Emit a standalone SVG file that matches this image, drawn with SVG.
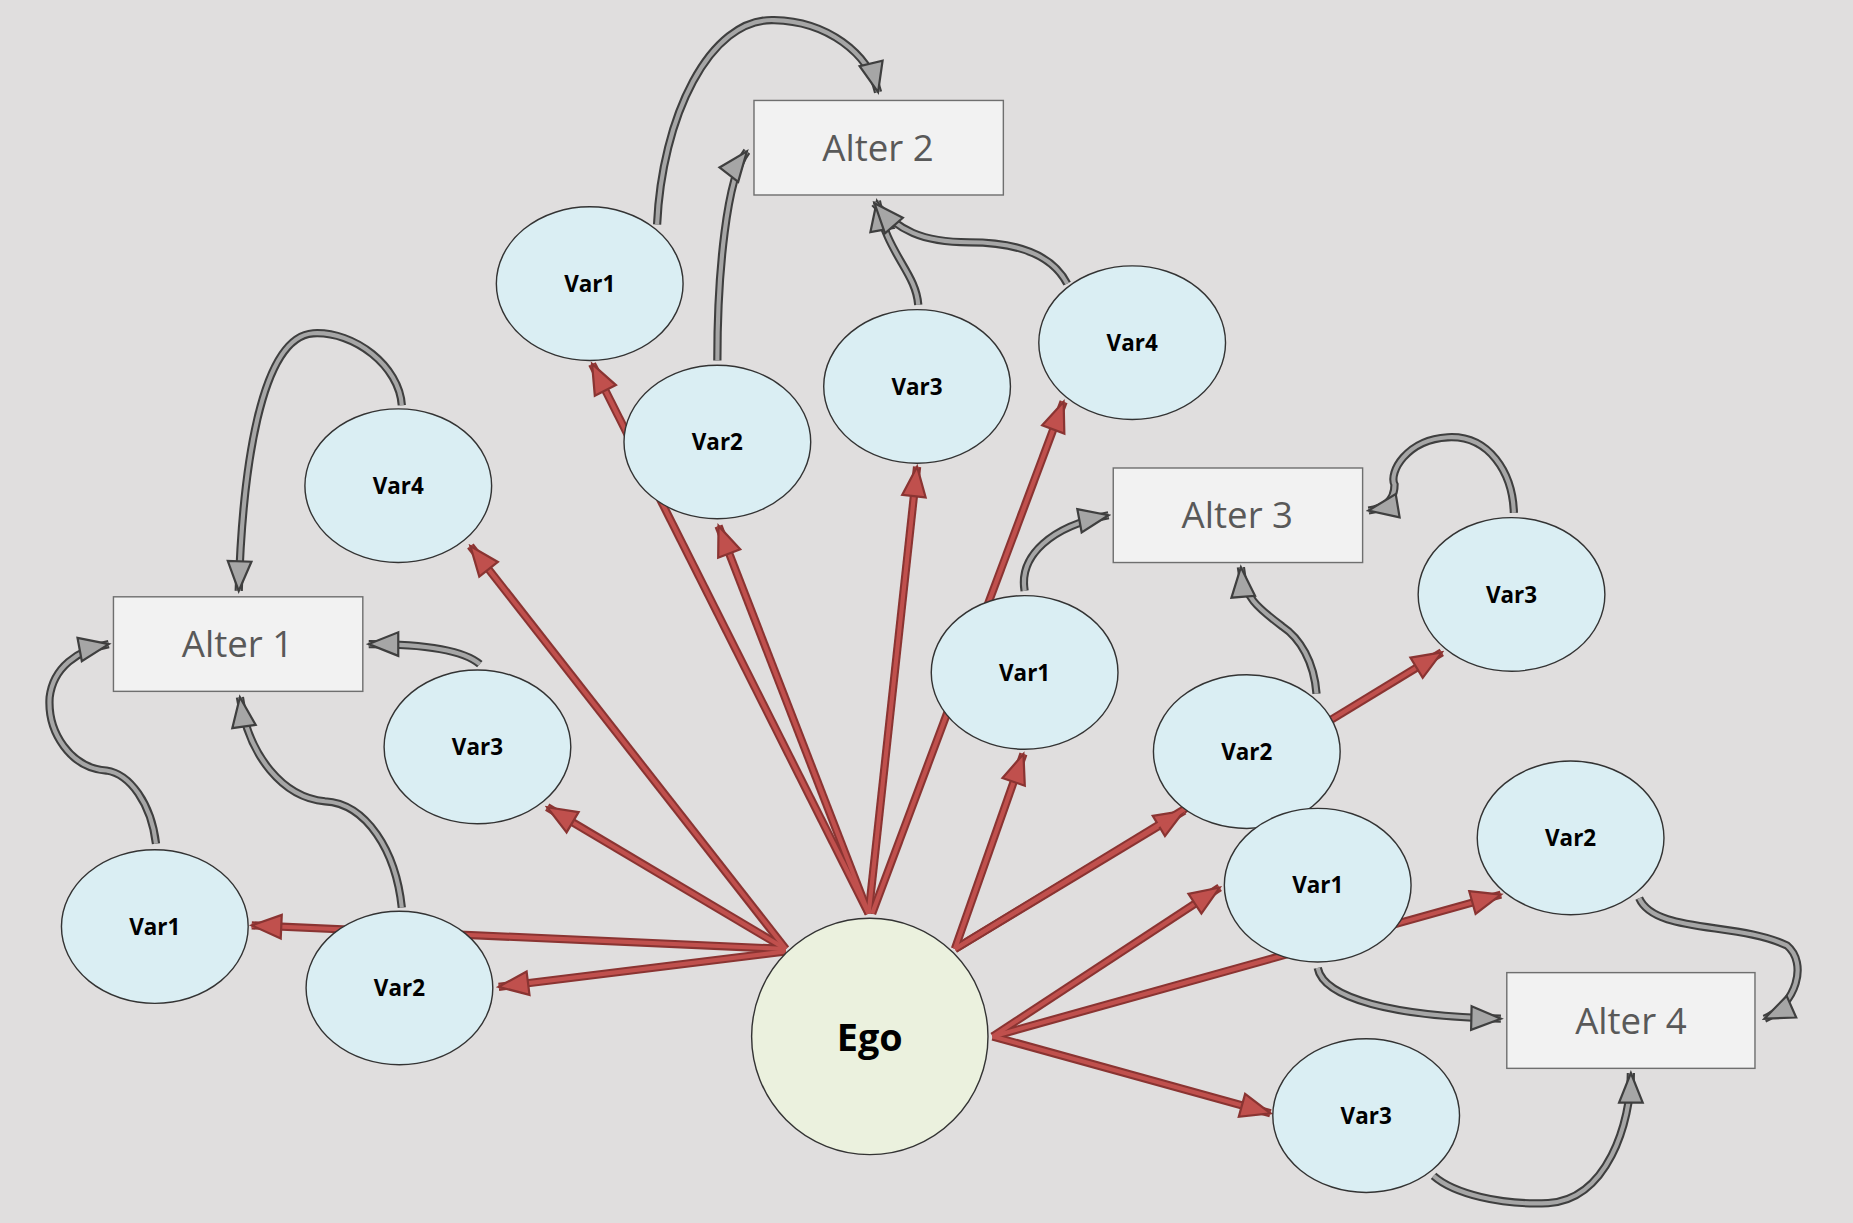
<svg xmlns="http://www.w3.org/2000/svg" xmlns:xlink="http://www.w3.org/1999/xlink" width="1853" height="1223" viewBox="0 0 1853 1223">
<style>
.o{fill:none;stroke-width:7;stroke-linecap:butt}
.i{fill:none;stroke-width:3.5}
.ro{stroke:#8a3432}.ri{stroke:#c0504d;marker-end:url(#mr)}
.go{stroke:#3f3f3f}.gi{stroke:#a6a6a6;marker-end:url(#mg)}
.v{fill:#daeef3;stroke:#333;stroke-width:1.2}
.r{fill:#f2f2f2;stroke:#6f6f6f;stroke-width:1.2}
.vt{font-family:"Open Sans","DejaVu Sans",sans-serif;font-weight:bold;font-size:19px;fill:#000;text-anchor:middle}
.at{font-family:"Open Sans","DejaVu Sans",sans-serif;font-size:31px;fill:#595959;text-anchor:middle}
</style>
<defs>
<marker id="mr" markerUnits="userSpaceOnUse" markerWidth="30" markerHeight="30" viewBox="0 0 24 20" refX="22" refY="10" orient="auto"><path d="M2,2 L22,10 L2,18 Z" fill="#c0504d" stroke="#8a3432" stroke-width="1.5"/></marker>
<marker id="mg" markerUnits="userSpaceOnUse" markerWidth="30" markerHeight="30" viewBox="0 0 24 20" refX="22" refY="10" orient="auto"><path d="M2,2 L22,10 L2,18 Z" fill="#a6a6a6" stroke="#3f3f3f" stroke-width="1.5"/></marker>
</defs>
<rect width="1853" height="1223" fill="#e0dede"/>
<g transform="scale(1.1818)">
<g id="connectors">
<defs>
<path id="r1" d="M665,803 L213,783"/>
<path id="r2" d="M665,805 L422,835"/>
<path id="r3" d="M665,803 L463,683"/>
<path id="r4" d="M665,803 L398,462"/>
<path id="r5" d="M735,773 L501,308"/>
<path id="r6" d="M735,773 L608,445"/>
<path id="r7" d="M735,773 L776,395"/>
<path id="r8" d="M738,773 L900,340"/>
<path id="r9" d="M808,803 L866,638"/>
<path id="r10" d="M808,803 L1002,686"/>
<path id="r11" d="M808,803 L1220,552"/>
<path id="r12" d="M840,877 L1032,751"/>
<path id="r13" d="M840,877 L1075,942"/>
<path id="r14" d="M840,877 L1270,757"/>
<path id="g1" d="M556,190 C560,100 600,15 655,17 C700,18 735,45 743,78"/>
<path id="g2" d="M607,305 C607,230 615,150 632,128"/>
<path id="g3" d="M777,258 C775,230 750,215 742,170"/>
<path id="g4" d="M903,240 C890,215 860,205 820,205 C780,205 760,195 740,172"/>
<path id="g5" d="M340,343 C338,310 300,280 265,282 C220,285 205,400 202,500"/>
<path id="g6" d="M406,562 C390,548 350,545 312,545"/>
<path id="g7" d="M132,714 C128,680 110,655 90,652 C60,650 40,620 42,590 C45,565 65,550 92,545"/>
<path id="g8" d="M340,768 C335,720 310,680 275,678 C240,675 210,640 203,590"/>
<path id="g9" d="M867,500 C862,470 890,445 938,436"/>
<path id="g10" d="M1114,587 C1112,560 1100,540 1085,530 C1065,515 1052,505 1050,480"/>
<path id="g11" d="M1281,434 C1280,400 1260,368 1225,370 C1190,372 1175,400 1180,410 C1180,425 1170,430 1158,432"/>
<path id="g12" d="M1115,819 C1120,845 1180,860 1270,862"/>
<path id="g13" d="M1387,760 C1400,790 1470,780 1512,800 C1530,815 1520,850 1493,862"/>
<path id="g14" d="M1213,995 C1230,1010 1270,1020 1310,1018 C1360,1015 1380,950 1380,908"/>
</defs>
<g class="o ro"><use href="#r1"/><use href="#r2"/><use href="#r3"/><use href="#r4"/><use href="#r5"/><use href="#r6"/><use href="#r7"/><use href="#r8"/><use href="#r9"/><use href="#r10"/><use href="#r11"/><use href="#r12"/><use href="#r13"/><use href="#r14"/></g>
<g class="i ri"><use href="#r1"/><use href="#r2"/><use href="#r3"/><use href="#r4"/><use href="#r5"/><use href="#r6"/><use href="#r7"/><use href="#r8"/><use href="#r9"/><use href="#r10"/><use href="#r11"/><use href="#r12"/><use href="#r13"/><use href="#r14"/></g>
<g class="o go"><use href="#g1"/><use href="#g2"/><use href="#g3"/><use href="#g4"/><use href="#g5"/><use href="#g6"/><use href="#g7"/><use href="#g8"/><use href="#g9"/><use href="#g10"/><use href="#g11"/><use href="#g12"/><use href="#g13"/><use href="#g14"/></g>
<g class="i gi"><use href="#g1"/><use href="#g2"/><use href="#g3"/><use href="#g4"/><use href="#g5"/><use href="#g6"/><use href="#g7"/><use href="#g8"/><use href="#g9"/><use href="#g10"/><use href="#g11"/><use href="#g12"/><use href="#g13"/><use href="#g14"/></g>
</g>
<g id="ego"><circle cx="736" cy="877" r="100" fill="#ebf1de" stroke="#333" stroke-width="1.2"/><text x="736" y="889" class="vt" style="font-size:32px">Ego</text></g>
<g id="alter2"><rect x="638" y="85" width="211" height="80" class="r"/><text x="743" y="136" class="at">Alter 2</text></g>
<g id="alter1"><rect x="96" y="505" width="211" height="80" class="r"/><text x="201" y="556" class="at">Alter 1</text></g>
<g id="alter3"><rect x="942" y="396" width="211" height="80" class="r"/><text x="1047" y="447" class="at">Alter 3</text></g>
<g id="alter4"><rect x="1275" y="823" width="210" height="81" class="r"/><text x="1380" y="875" class="at">Alter 4</text></g>
<g id="a2v1"><ellipse cx="499" cy="240" rx="79" ry="65" class="v"/><text x="499" y="247" class="vt">Var1</text></g>
<g id="a2v2"><ellipse cx="607" cy="374" rx="79" ry="65" class="v"/><text x="607" y="381" class="vt">Var2</text></g>
<g id="a2v3"><ellipse cx="776" cy="327" rx="79" ry="65" class="v"/><text x="776" y="334" class="vt">Var3</text></g>
<g id="a2v4"><ellipse cx="958" cy="290" rx="79" ry="65" class="v"/><text x="958" y="297" class="vt">Var4</text></g>
<g id="a1v4"><ellipse cx="337" cy="411" rx="79" ry="65" class="v"/><text x="337" y="418" class="vt">Var4</text></g>
<g id="a1v3"><ellipse cx="404" cy="632" rx="79" ry="65" class="v"/><text x="404" y="639" class="vt">Var3</text></g>
<g id="a1v1"><ellipse cx="131" cy="784" rx="79" ry="65" class="v"/><text x="131" y="791" class="vt">Var1</text></g>
<g id="a1v2"><ellipse cx="338" cy="836" rx="79" ry="65" class="v"/><text x="338" y="843" class="vt">Var2</text></g>
<g id="a3v1"><ellipse cx="867" cy="569" rx="79" ry="65" class="v"/><text x="867" y="576" class="vt">Var1</text></g>
<g id="a3v2"><ellipse cx="1055" cy="636" rx="79" ry="65" class="v"/><text x="1055" y="643" class="vt">Var2</text></g>
<g id="a3v3"><ellipse cx="1279" cy="503" rx="79" ry="65" class="v"/><text x="1279" y="510" class="vt">Var3</text></g>
<g id="a4v1"><ellipse cx="1115" cy="749" rx="79" ry="65" class="v"/><text x="1115" y="756" class="vt">Var1</text></g>
<g id="a4v2"><ellipse cx="1329" cy="709" rx="79" ry="65" class="v"/><text x="1329" y="716" class="vt">Var2</text></g>
<g id="a4v3"><ellipse cx="1156" cy="944" rx="79" ry="65" class="v"/><text x="1156" y="951" class="vt">Var3</text></g>
</g>
</svg>
